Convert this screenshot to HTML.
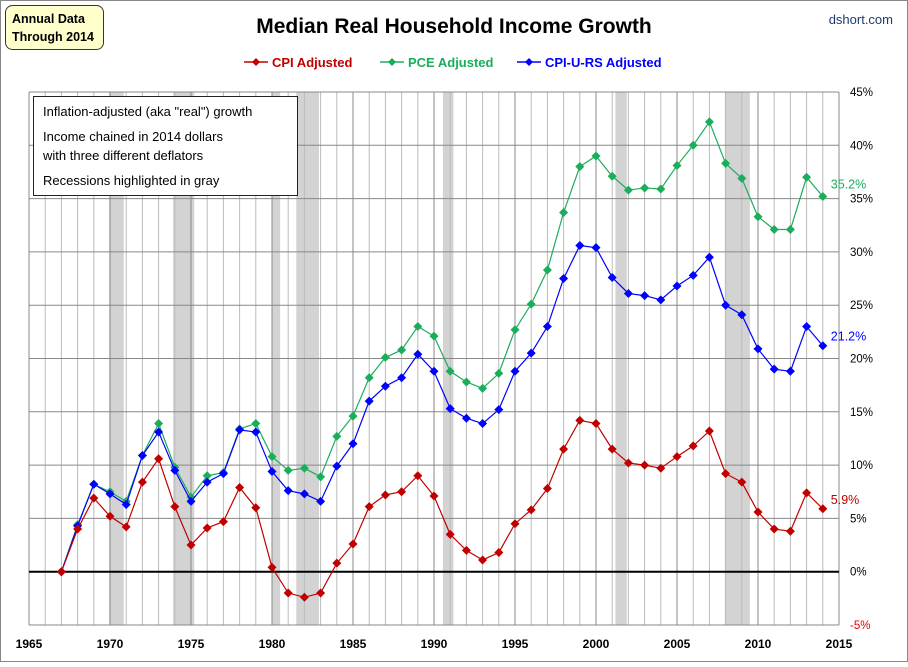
<!DOCTYPE html>
<html><head><meta charset="utf-8"><style>
body{margin:0;background:#fff;}
svg text{font-family:"Liberation Sans",sans-serif;}
</style></head><body>
<svg id="chart" width="908" height="662" xmlns="http://www.w3.org/2000/svg">
<rect x="0.5" y="0.5" width="907" height="661" fill="#fff" stroke="#888"/>
<g id="recessions"></g>
<g id="grid"></g>
<g id="series"></g>
<g id="axes"></g>
<text x="454" y="33" text-anchor="middle" font-size="21" font-weight="bold" fill="#000">Median Real Household Income Growth</text>
<text x="893" y="24" text-anchor="end" font-size="13" fill="#1f3a6e">dshort.com</text>
<g>
<rect x="5.5" y="5.5" width="98" height="44" rx="7" fill="#ffffcc" stroke="#333" stroke-width="1"/>
<text x="12" y="23" font-size="12.5" font-weight="bold" fill="#000">Annual Data</text>
<text x="12" y="41" font-size="12.5" font-weight="bold" fill="#000">Through 2014</text>
</g>
<g id="legend"></g>
<g>
<rect x="33.5" y="96.5" width="264" height="99" fill="#fff" stroke="#222"/>
<text x="43" y="116" font-size="13" fill="#000">Inflation-adjusted (aka "real") growth</text>
<text x="43" y="141" font-size="13" fill="#000">Income chained in 2014 dollars</text>
<text x="43" y="160" font-size="13" fill="#000">with three different deflators</text>
<text x="43" y="185" font-size="13" fill="#000">Recessions highlighted in gray</text>
</g>
</svg>
<script>
const years=[1967,1968,1969,1970,1971,1972,1973,1974,1975,1976,1977,1978,1979,1980,1981,1982,1983,1984,1985,1986,1987,1988,1989,1990,1991,1992,1993,1994,1995,1996,1997,1998,1999,2000,2001,2002,2003,2004,2005,2006,2007,2008,2009,2010,2011,2012,2013,2014];
const cpi=[0,4.0,6.9,5.2,4.2,8.4,10.6,6.1,2.5,4.1,4.7,7.9,6.0,0.4,-2.0,-2.4,-2.0,0.8,2.6,6.1,7.2,7.5,9.0,7.1,3.5,2.0,1.1,1.8,4.5,5.8,7.8,11.5,14.2,13.9,11.5,10.2,10.0,9.7,10.8,11.8,13.2,9.2,8.4,5.6,4.0,3.8,7.4,5.9];
const pce=[0,4.4,8.2,7.5,6.6,10.9,13.9,9.8,7.0,9.0,9.3,13.4,13.9,10.8,9.5,9.7,8.9,12.7,14.6,18.2,20.1,20.8,23.0,22.1,18.8,17.8,17.2,18.6,22.7,25.1,28.3,33.7,38.0,39.0,37.1,35.8,36.0,35.9,38.1,40.0,42.2,38.3,36.9,33.3,32.1,32.1,37.0,35.2];
const cpiurs=[0,4.3,8.2,7.3,6.3,10.9,13.1,9.5,6.6,8.4,9.2,13.3,13.1,9.4,7.6,7.3,6.6,9.9,12.0,16.0,17.4,18.2,20.4,18.8,15.3,14.4,13.9,15.2,18.8,20.5,23.0,27.5,30.6,30.4,27.6,26.1,25.9,25.5,26.8,27.8,29.5,25.0,24.1,20.9,19.0,18.8,23.0,21.2];
const recStart=[1969.95,1973.9,1980.0,1981.5,1990.55,2001.2,2007.95];
const recEnd=[1970.85,1975.2,1980.5,1982.9,1991.2,2001.9,2009.5];
const xTicks=[1965,1970,1975,1980,1985,1990,1995,2000,2005,2010,2015];
const yTicks=[-5,0,5,10,15,20,25,30,35,40,45];
const seriesNames=["CPI Adjusted","PCE Adjusted","CPI-U-RS Adjusted"];
const seriesColors=["#c00000","#1aae5a","#0000ff"];

const X0=29,X1=839,Y0=625,Y1=92;
const x=y=>X0+(y-1965)/50*(X1-X0);
const yv=v=>Y0-(v+5)/50*(Y0-Y1);
const NS="http://www.w3.org/2000/svg";
function mk(tag,attrs,parent){const e=document.createElementNS(NS,tag);for(const k in attrs)e.setAttribute(k,attrs[k]);parent.appendChild(e);return e;}
const rec=document.getElementById('recessions'),grid=document.getElementById('grid'),ser=document.getElementById('series'),ax=document.getElementById('axes'),leg=document.getElementById('legend');
for(let i=0;i<recStart.length;i++){
  const r=mk('rect',{x:x(recStart[i]),y:Y1,width:x(recEnd[i])-x(recStart[i]),height:Y0-Y1,fill:'#d3d3d3'},rec);
  
  
}
for(let yr=1965;yr<=2015;yr++){
  const major=yr%5===0;
  const l=mk('line',{x1:x(yr),x2:x(yr),y1:Y1,y2:Y0,stroke:major?'#888':'#bbb','stroke-width':1},grid);
  
  
}
yTicks.forEach(t=>{
  const l=mk('line',{x1:X0,x2:X1,y1:yv(t),y2:yv(t),stroke:t===0?'#000':'#888','stroke-width':t===0?2:1},grid);
  
  
  const tx=mk('text',{x:850,y:yv(t)+4,'font-size':11.5,fill:t<0?'#e00000':'#000'},ax);
  tx.textContent=t+'%';
  
  
});
xTicks.forEach(t=>{
  const tx=mk('text',{x:x(t),y:648,'font-size':12,'font-weight':'bold','text-anchor':'middle',fill:'#000'},ax);
  tx.textContent=t;
  
  
});
const all=[cpi,pce,cpiurs];
const labelDy=[-5,-8,-5];
[1,2,0].forEach(si=>{
  const d=all[si],c=seriesColors[si];
  const g=mk('g',{},ser);
  
  
  mk('polyline',{points:years.map((y,i)=>x(y)+','+yv(d[i])).join(' '),fill:'none',stroke:c,'stroke-width':1.2},g);
  years.forEach((y,i)=>{
    const px=x(y),py=yv(d[i]);
    const p=mk('polygon',{points:`${px},${py-4.5} ${px+4.5},${py} ${px},${py+4.5} ${px-4.5},${py}`,fill:c},g);
    
    
  });
  const last=d[d.length-1];
  const lb=mk('text',{x:x(2014)+8,y:yv(last)+labelDy[si],'font-size':12.5,fill:c},g);
  lb.textContent=last.toFixed(1)+'%';
  
  
});
const legX=[244,380,517];
seriesNames.forEach((n,i)=>{
  const g=mk('g',{},leg);
  
  
  const c=seriesColors[i],lx=legX[i],ly=62;
  mk('line',{x1:lx,x2:lx+24,y1:ly,y2:ly,stroke:c,'stroke-width':1.5},g);
  mk('polygon',{points:`${lx+12},${ly-4} ${lx+16},${ly} ${lx+12},${ly+4} ${lx+8},${ly}`,fill:c},g);
  const t=mk('text',{x:lx+28,y:ly+5,'font-size':13,'font-weight':'bold',fill:c},g);
  t.textContent=n;
});
</script>
</body></html>
